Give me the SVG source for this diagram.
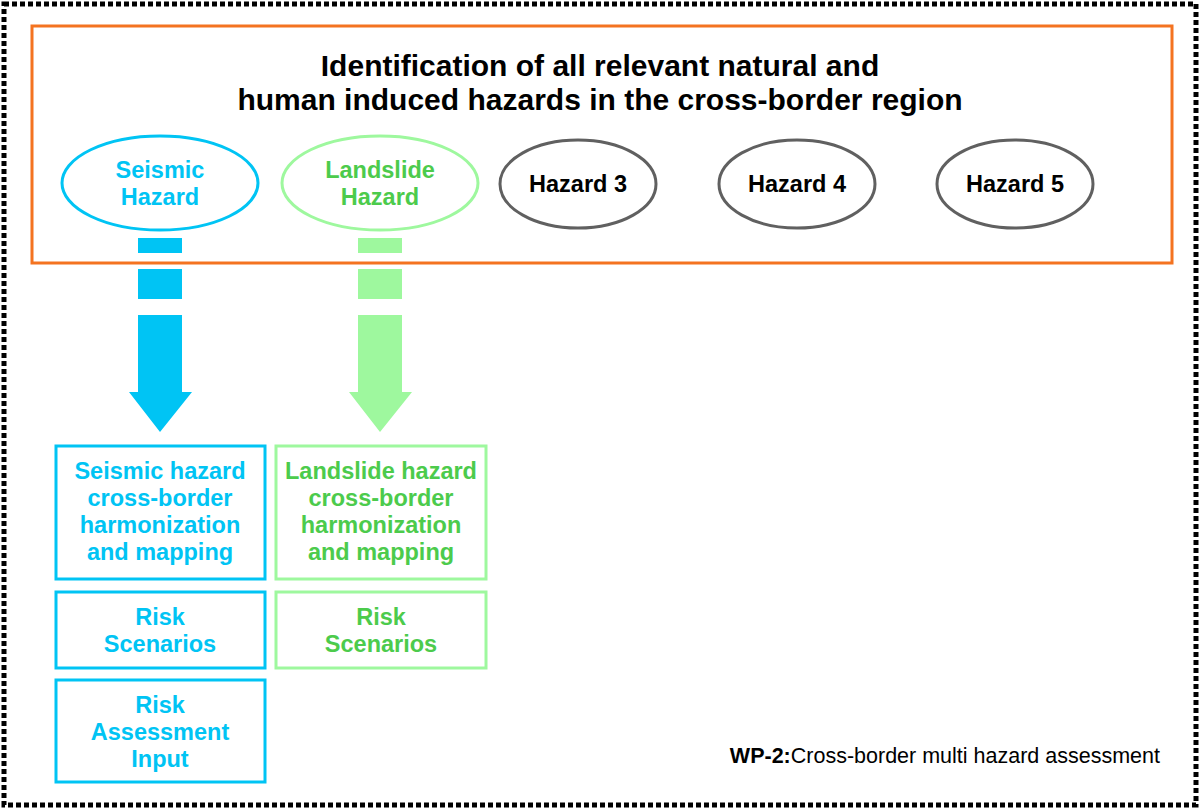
<svg xmlns="http://www.w3.org/2000/svg" width="1200" height="809" viewBox="0 0 1200 809">
<style>
text{font-family:"Liberation Sans",Arial,sans-serif;font-weight:bold;text-anchor:middle}
.s{fill:#00c4f4}.sb{fill:none;stroke:#00c4f4;stroke-width:3}
.l{fill:#4ccb4c}.lb{fill:none;stroke:#9ef89e;stroke-width:3}
.h{fill:none;stroke:#606060;stroke-width:3}
.t{font-size:23.5px}
</style>
<rect x="0" y="0" width="1200" height="809" fill="#fff"/>
<rect x="4" y="4" width="1192" height="801" fill="none" stroke="#000" stroke-width="5" stroke-dasharray="5 3"/>
<g id="main"><rect x="32" y="26" width="1140" height="237" fill="none" stroke="#f47320" stroke-width="3"/>
<text x="600" y="76" font-size="30">Identification of all relevant natural and</text>
<text x="600" y="110" font-size="30">human induced hazards in the cross-border region</text></g>
<g id="connectors">
<rect class="s" x="138" y="238" width="44" height="15"/><rect class="s" x="138" y="269" width="44" height="30"/>
<polygon class="s" points="138,315 182,315 182,392 192,392 160,432 129,392 138,392"/>
<rect fill="#9ef89e" x="358" y="238" width="44" height="15"/><rect fill="#9ef89e" x="358" y="269" width="44" height="30"/>
<polygon fill="#9ef89e" points="358,315 402,315 402,392 412,392 380,432 349,392 358,392"/>
</g>
<g id="seismic"><ellipse class="sb" cx="160" cy="183" rx="98" ry="47"/><text class="s t" x="160" y="178">Seismic</text><text class="s t" x="160" y="205">Hazard</text></g>
<g id="landslide"><ellipse class="lb" cx="380" cy="183" rx="98" ry="47"/><text class="l t" x="380" y="178">Landslide</text><text class="l t" x="380" y="205">Hazard</text></g>
<g id="h3"><ellipse class="h" cx="578" cy="184" rx="78" ry="44"/><text class="t" x="578" y="192">Hazard 3</text></g>
<g id="h4"><ellipse class="h" cx="797" cy="184" rx="78" ry="44"/><text class="t" x="797" y="192">Hazard 4</text></g>
<g id="h5"><ellipse class="h" cx="1015" cy="184" rx="78" ry="44"/><text class="t" x="1015" y="192">Hazard 5</text></g>
<g id="s1"><rect class="sb" x="56" y="446" width="209" height="133"/>
<text class="s t" x="160" y="479">Seismic hazard</text><text class="s t" x="160" y="506">cross-border</text><text class="s t" x="160" y="533">harmonization</text><text class="s t" x="160" y="560">and mapping</text></g>
<g id="s2"><rect class="sb" x="56" y="592" width="209" height="76"/><text class="s t" x="160" y="625">Risk</text><text class="s t" x="160" y="652">Scenarios</text></g>
<g id="s3"><rect class="sb" x="56" y="680" width="209" height="102"/><text class="s t" x="160" y="713">Risk</text><text class="s t" x="160" y="740">Assessment</text><text class="s t" x="160" y="767">Input</text></g>
<g id="l1"><rect class="lb" x="276" y="446" width="210" height="133"/>
<text class="l t" x="381" y="479">Landslide hazard</text><text class="l t" x="381" y="506">cross-border</text><text class="l t" x="381" y="533">harmonization</text><text class="l t" x="381" y="560">and mapping</text></g>
<g id="l2"><rect class="lb" x="276" y="592" width="210" height="76"/><text class="l t" x="381" y="625">Risk</text><text class="l t" x="381" y="652">Scenarios</text></g>
<text x="1160" y="763" font-size="21.5" style="text-anchor:end">WP-2:<tspan font-weight="normal">Cross-border multi hazard assessment</tspan></text>
</svg>
